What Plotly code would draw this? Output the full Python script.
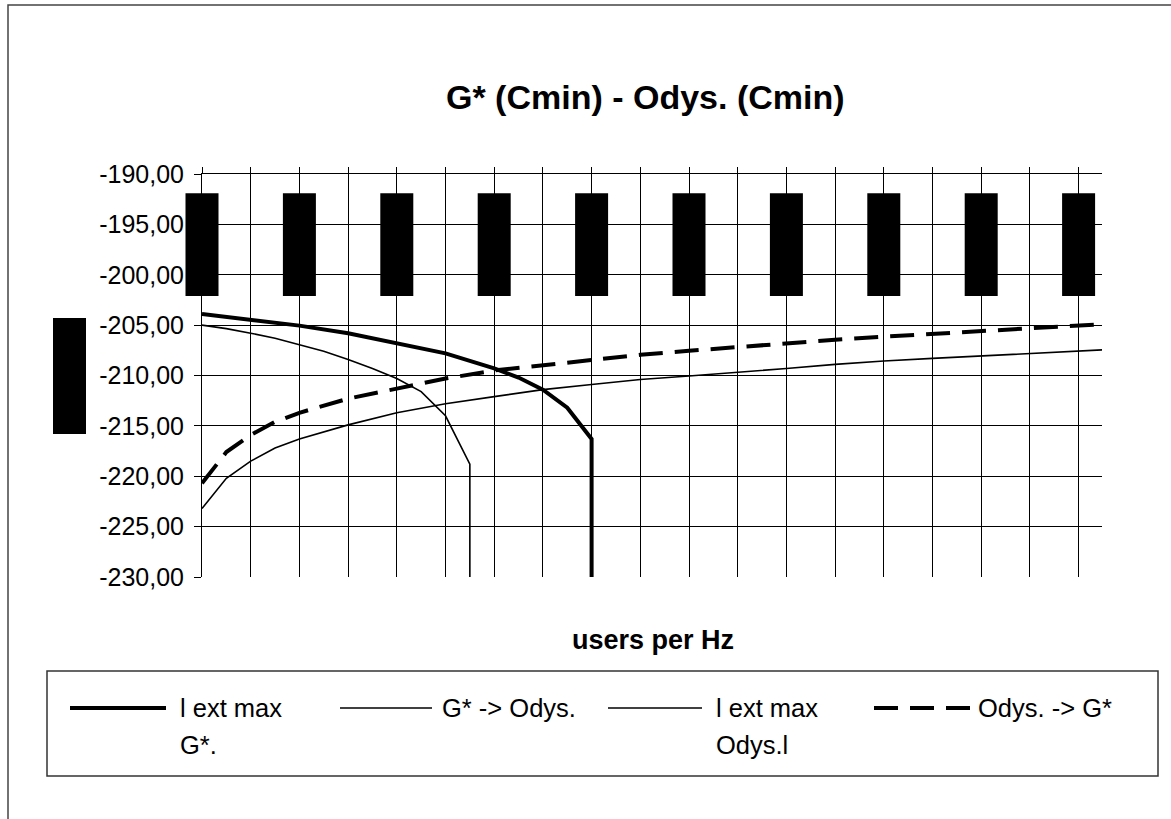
import plotly.graph_objects as go

# ---------------- data (x in grid steps of "users per Hz") ----------------
x_g_ext = [0, 1, 2, 3, 4, 5, 6, 6.5, 7, 7.5, 8, 8]
y_g_ext = [-203.9, -204.5, -205.05, -205.8, -206.75, -207.8, -209.3, -210.2, -211.4, -213.2, -216.3, -231.5]

x_g_to_o = [0, 0.5, 1, 1.5, 2, 3, 4, 5, 6, 7, 8, 9, 10, 11, 12, 13, 14, 15, 16, 17, 18, 18.5]
y_g_to_o = [-223.2, -220.2, -218.5, -217.2, -216.3, -214.9, -213.7, -212.8, -212.1, -211.4, -210.9,
            -210.4, -210.05, -209.7, -209.3, -208.9, -208.56, -208.3, -208.06, -207.8, -207.57, -207.45]

x_o_ext = [0, 0.5, 1, 1.5, 2, 2.5, 3, 3.5, 4, 4.5, 5, 5.5, 5.5]
y_o_ext = [-205.0, -205.35, -205.8, -206.3, -206.95, -207.6, -208.4, -209.3, -210.3, -211.6, -214.0, -218.8, -231.5]

x_o_to_g = [0, 0.5, 1, 1.5, 2, 3, 4, 5, 6, 7, 8, 9, 10, 11, 12, 13, 14, 15, 16, 17, 18, 18.5]
y_o_to_g = [-220.7, -217.6, -215.9, -214.6, -213.7, -212.3, -211.3, -210.3, -209.5, -209.0, -208.4,
            -207.95, -207.55, -207.15, -206.75, -206.45, -206.15, -205.85, -205.6, -205.35, -205.05, -204.9]

series_names = ["l ext max<br>G*.", "G* -> Odys.", "l ext max<br>Odys.l", "Odys. -> G*"]

y_tick_vals = [-190, -195, -200, -205, -210, -215, -220, -225, -230]
y_tick_text = ["-190,00", "-195,00", "-200,00", "-205,00", "-210,00", "-215,00", "-220,00", "-225,00", "-230,00"]
x_label_vals = [0, 2, 4, 6, 8, 10, 12, 14, 16, 18]   # positions of the (redacted) x tick labels

title_text = "G* (Cmin) - Odys. (Cmin)"
x_title = "users per Hz"

# ---------------- geometry ----------------
W, H = 1171, 819
L, R, T, B = 202, 1102, 174, 577
X_MAX = (R - L) / 48.7
Y_MIN, Y_MAX = -230, -190


def px2x(px):
    return (px - L) / (R - L)


def py2y(py):
    return (B - py) / (B - T)


def dx2paper(v):
    return v / X_MAX


def dy2paper(v):
    return (v - Y_MIN) / (Y_MAX - Y_MIN)


FONT = "Arial, Liberation Sans, sans-serif"

fig = go.Figure()
styles = [
    dict(width=4, dash="solid"),
    dict(width=1.6, dash="solid"),
    dict(width=1.6, dash="solid"),
    dict(width=4, dash="24px,12px"),
]
data = [(x_g_ext, y_g_ext), (x_g_to_o, y_g_to_o), (x_o_ext, y_o_ext), (x_o_to_g, y_o_to_g)]
for (xs, ys), st, nm in zip(data, styles, series_names):
    fig.add_trace(go.Scatter(x=xs, y=ys, mode="lines", name=nm.replace("<br>", " "), showlegend=False,
                             line=dict(color="black", width=st["width"], dash=st["dash"])))

shapes = []
# redacted x tick labels (drawn in paper space so they can overhang the axis)
half_w = 16.5 / (R - L)
for xv in x_label_vals:
    cx = dx2paper(xv)
    shapes.append(dict(type="rect", xref="paper", yref="paper", x0=cx - half_w, x1=cx + half_w,
                       y0=dy2paper(-202.1), y1=dy2paper(-191.9), fillcolor="black",
                       line=dict(width=0), layer="above"))
# redacted y-axis title
shapes.append(dict(type="rect", xref="paper", yref="paper", x0=px2x(53), x1=px2x(86),
                   y0=py2y(434), y1=py2y(318), fillcolor="black", line=dict(width=0)))
# outer chart frame
shapes.append(dict(type="rect", xref="paper", yref="paper", x0=px2x(8), x1=px2x(1200),
                   y0=py2y(900), y1=py2y(5), line=dict(color="#444", width=1.5)))
# legend box
shapes.append(dict(type="rect", xref="paper", yref="paper", x0=px2x(47), x1=px2x(1158),
                   y0=py2y(776), y1=py2y(671), line=dict(color="#333", width=1.5)))

leg_line_x = [(70, 166), (340, 432), (608, 702), (874, 970)]
leg_text_x = [178, 440, 714, 976]
leg_y = 708
line_gap = 37
annotations = []
for (a, b), tx, st, nm in zip(leg_line_x, leg_text_x, styles, series_names):
    shapes.append(dict(type="line", xref="paper", yref="paper", x0=px2x(a), x1=px2x(b),
                       y0=py2y(leg_y), y1=py2y(leg_y),
                       line=dict(color="black", width=st["width"], dash=st["dash"])))
    for k, part in enumerate(nm.split("<br>")):
        annotations.append(dict(xref="paper", yref="paper", x=px2x(tx), y=py2y(leg_y + k * line_gap),
                                text=part, showarrow=False, xanchor="left", yanchor="middle", align="left",
                                font=dict(family=FONT, size=25.5, color="black")))

annotations.append(dict(xref="paper", yref="paper", x=px2x(645), y=py2y(97), text="<b>%s</b>" % title_text,
                        showarrow=False, xanchor="center", yanchor="middle",
                        font=dict(family=FONT, size=34, color="black")))
annotations.append(dict(xref="paper", yref="paper", x=px2x(653), y=py2y(640), text="<b>%s</b>" % x_title,
                        showarrow=False, xanchor="center", yanchor="middle",
                        font=dict(family=FONT, size=27, color="black")))

fig.update_layout(
    width=W, height=H,
    margin=dict(l=L, r=W - R, t=T, b=H - B, pad=0),
    paper_bgcolor="white", plot_bgcolor="white",
    shapes=shapes, annotations=annotations, showlegend=False,
    font=dict(family=FONT, color="black"),
)
fig.update_xaxes(range=[0, X_MAX], side="top", tick0=0, dtick=1,
                 showgrid=True, gridcolor="black", gridwidth=1,
                 showline=True, linecolor="black", linewidth=1,
                 ticks="outside", ticklen=6, tickcolor="black",
                 showticklabels=False, zeroline=False)
fig.update_yaxes(range=[Y_MIN, Y_MAX], tickvals=y_tick_vals, ticktext=y_tick_text,
                 showgrid=True, gridcolor="black", gridwidth=1,
                 showline=True, linecolor="black", linewidth=1,
                 ticks="outside", ticklen=7, tickcolor="black",
                 ticklabelstandoff=5,
                 tickfont=dict(family=FONT, size=25, color="black"), zeroline=False)

fig.write_html("out.html")
